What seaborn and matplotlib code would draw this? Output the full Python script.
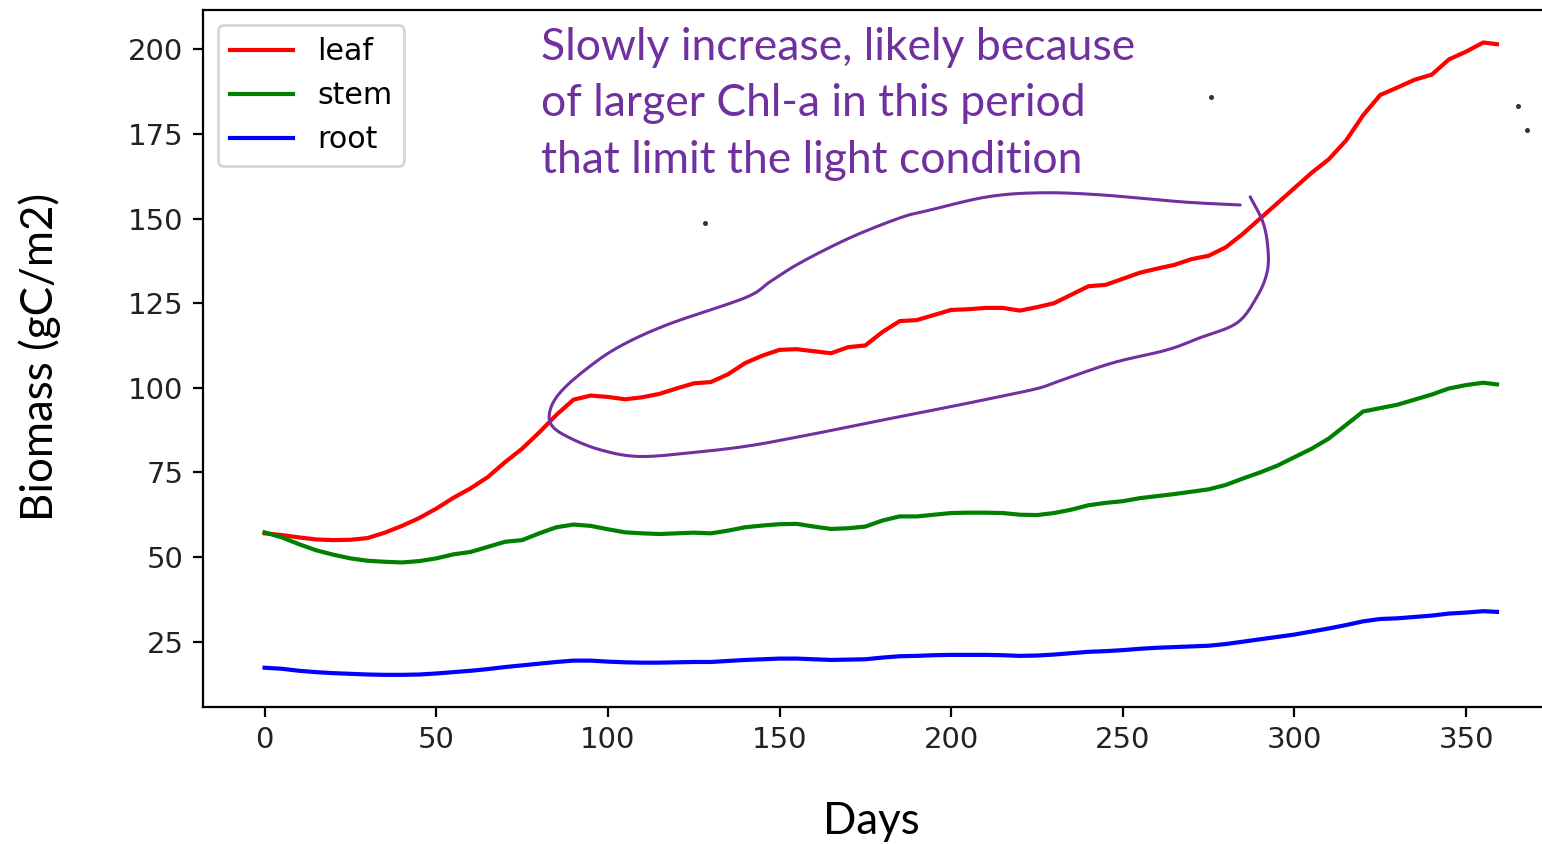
import numpy as np
import pandas as pd
import matplotlib
matplotlib.use("Agg")
import matplotlib.pyplot as plt
import seaborn as sns

# Simulated daily biomass, sampled every 5 days (last point is day 359)
days = list(range(0, 360, 5)) + [359]

leaf = [57.0, 56.5, 55.8, 55.2, 55.0, 55.1, 55.6, 57.2, 59.2, 61.5,
        64.3, 67.5, 70.3, 73.6, 78.0, 82.0, 86.8, 92.0, 96.5, 97.7,
        97.3, 96.6, 97.2, 98.2, 99.8, 101.3, 101.7, 104.0, 107.3, 109.5,
        111.2, 111.4, 110.8, 110.2, 112.0, 112.5, 116.5, 119.7, 120.0, 121.5,
        123.0, 123.2, 123.6, 123.6, 122.8, 123.8, 125.0, 127.5, 130.0, 130.4,
        132.2, 134.0, 135.2, 136.3, 138.0, 139.0, 141.5, 145.5, 150.0, 154.5,
        159.0, 163.5, 167.5, 173.0, 180.5, 186.5, 188.7, 191.0, 192.5, 197.0,
        199.3, 202.0, 201.5]

stem = [57.3, 55.8, 53.8, 52.0, 50.7, 49.6, 48.9, 48.6, 48.4, 48.8,
        49.6, 50.8, 51.5, 53.0, 54.5, 55.0, 57.0, 58.8, 59.6, 59.2,
        58.2, 57.3, 57.0, 56.8, 57.0, 57.2, 57.0, 57.8, 58.8, 59.3,
        59.7, 59.8, 59.0, 58.3, 58.5, 59.0, 60.8, 62.0, 62.0, 62.5,
        63.0, 63.1, 63.1, 63.0, 62.5, 62.4, 63.0, 64.0, 65.3, 66.0,
        66.5, 67.4, 68.0, 68.6, 69.3, 70.0, 71.3, 73.2, 75.0, 77.0,
        79.5, 82.0, 85.0, 89.0, 93.0, 94.0, 95.0, 96.5, 98.0, 99.8,
        100.8, 101.5, 101.0]

root = [17.3, 17.0, 16.4, 16.0, 15.7, 15.5, 15.3, 15.2, 15.2, 15.3,
        15.6, 16.0, 16.4, 16.9, 17.5, 18.0, 18.5, 19.0, 19.4, 19.4,
        19.1, 18.9, 18.8, 18.8, 18.9, 19.0, 19.0, 19.3, 19.6, 19.8,
        20.0, 20.0, 19.8, 19.6, 19.7, 19.8, 20.3, 20.7, 20.8, 21.0,
        21.1, 21.1, 21.1, 21.0, 20.8, 20.9, 21.2, 21.6, 22.0, 22.2,
        22.5, 22.9, 23.2, 23.4, 23.6, 23.8, 24.3, 25.0, 25.7, 26.4,
        27.1, 28.0, 28.9, 29.9, 31.0, 31.7, 31.9, 32.3, 32.7, 33.3,
        33.6, 34.0, 33.8]

series_names = ["leaf", "stem", "root"]
series_colors = {"leaf": "red", "stem": "green", "root": "blue"}

# Hand-drawn outline around the slow-growth period (day, biomass)
loop_day = [287.1, 290.9, 292.3, 292.0, 289.1, 283.3, 272.5, 262.9, 247.2, 232.6,
            225.9, 214.2, 199.7, 185.1, 170.5, 156.0, 141.4, 126.9, 109.4, 97.7,
            88.1, 83.5, 83.2, 86.1, 92.8, 102.7, 117.2, 140.0, 147.2, 156.0,
            170.5, 185.1, 193.0, 210.5, 225.9, 243.4, 267.5, 284.2]
loop_val = [156.4, 148.7, 140.8, 134.0, 126.9, 119.2, 114.8, 111.2, 107.4, 102.4,
            100.0, 97.4, 94.4, 91.5, 88.5, 85.6, 82.9, 81.1, 79.7, 81.7,
            85.6, 89.1, 93.5, 98.6, 104.8, 111.8, 118.6, 126.6, 131.3, 136.9,
            144.3, 150.2, 152.3, 156.4, 157.6, 157.0, 154.9, 154.0]

note_lines = ["Slowly increase, likely because",
              "of larger Chl-a in this period",
              "that limit the light condition"]

# Stray ink specks
speck_day = [275.7, 365.1, 367.7, 128.3]
speck_val = [185.9, 183.3, 176.2, 148.7]


def smooth_stroke(xs, ys, steps=12):
    """Catmull-Rom pass so the pen stroke bends smoothly through its points."""
    p = np.column_stack([xs, ys]).astype(float)
    p = np.vstack([p[0], p, p[-1]])
    out = []
    for i in range(1, len(p) - 2):
        p0, p1, p2, p3 = p[i - 1], p[i], p[i + 1], p[i + 2]
        for t in np.linspace(0, 1, steps, endpoint=False):
            t2, t3 = t * t, t * t * t
            out.append(0.5 * ((2 * p1) + (-p0 + p2) * t
                              + (2 * p0 - 5 * p1 + 4 * p2 - p3) * t2
                              + (-p0 + 3 * p1 - 3 * p2 + p3) * t3))
    out.append(p[-2])
    out = np.array(out)
    return out[:, 0], out[:, 1]


df = pd.DataFrame({
    "Days": days * 3,
    "Biomass": leaf + stem + root,
    "part": [n for n in series_names for _ in days],
})

W, H = 1542, 844
fig = plt.figure(figsize=(W / 200, H / 200), dpi=200)
ax = fig.add_axes([203 / W, 137 / H, 1355.6 / W, 697 / H])

for name in series_names:
    sns.lineplot(data=df[df["part"] == name], x="Days", y="Biomass",
                 color=series_colors[name], label=name, ax=ax,
                 linewidth=1.5, estimator=None)

ax.set_xticks([0, 50, 100, 150, 200, 250, 300, 350])
ax.set_yticks([25, 50, 75, 100, 125, 150, 175, 200])
ax.set_xlim(-17.95, 376.95)
ax.set_ylim(5.7, 211.6)
ax.tick_params(labelsize=10.5, labelcolor="#222222")

ax.legend(loc="upper left", fontsize=10.8, handlelength=2.1)

label_font = dict(family=["Lato", "DejaVu Sans"], fontsize=15.8, color="black")
ax.set_xlabel("Days", **label_font)
ax.set_ylabel("Biomass (gC/m2)", **label_font)
ax.xaxis.set_label_coords((871 - 203) / 1355.6, (707 - 822) / 697)
ax.xaxis.label.set_va("center")
ax.yaxis.set_label_coords((40 - 203) / 1355.6, (707 - 357) / 697)
ax.yaxis.label.set_va("center")

purple = "#7030A0"
sx, sy = smooth_stroke(loop_day, loop_val)
ax.plot(sx, sy, color=purple, linewidth=1.1,
        solid_capstyle="round", solid_joinstyle="round")
ax.plot(speck_day, speck_val, linestyle="none", marker="o",
        markersize=0.8, color="#333333", clip_on=False)

for i, line in enumerate(note_lines):
    fig.text(541 / W, 1 - (60 + 56.5 * i) / H, line, color=purple,
             family=["Lato", "DejaVu Sans"], fontsize=16.0, va="baseline",
             ha="left")

fig.savefig("out.png", dpi=200)
